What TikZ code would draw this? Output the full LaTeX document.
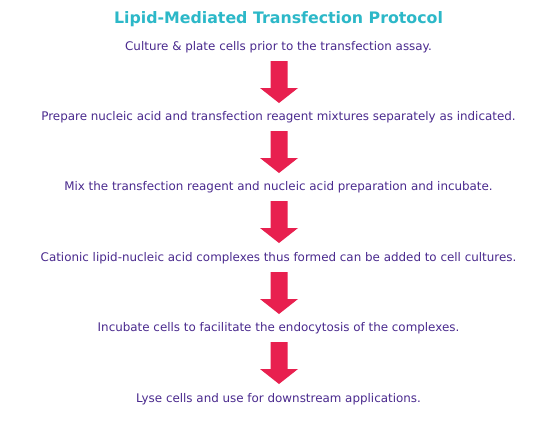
\documentclass[tikz,border=0pt]{standalone}
\usepackage{fontspec}
\setmainfont{DejaVu Sans}
\definecolor{titlecol}{HTML}{2CB8C8}
\definecolor{textcol}{HTML}{4A2A8E}
\definecolor{arrowcol}{HTML}{E8204F}
\begin{document}
\begin{tikzpicture}[x=1pt,y=-1pt,
  steptext/.style={text=textcol,font=\fontsize{11.9}{14}\selectfont,inner sep=0pt,anchor=center},
  downarrow/.style={fill=arrowcol,draw=none}]
\useasboundingbox[fill=white] (0,0) rectangle (558,421);
\node[text=titlecol,font=\bfseries\fontsize{15.8}{18}\selectfont,inner sep=0pt] (title) at (278.5,19) {Lipid-Mediated Transfection Protocol};
\node[steptext] (s1) at (278.5,47) {Culture \& plate cells prior to the transfection assay.};
\node[steptext] (s2) at (278.5,117) {Prepare nucleic acid and transfection reagent mixtures separately as indicated.};
\node[steptext] (s3) at (278.5,187) {Mix the transfection reagent and nucleic acid preparation and incubate.};
\node[steptext] (s4) at (278.5,258) {Cationic lipid-nucleic acid complexes thus formed can be added to cell cultures.};
\node[steptext] (s5) at (278.5,328) {Incubate cells to facilitate the endocytosis of the complexes.};
\node[steptext] (s6) at (278.5,399) {Lyse cells and use for downstream applications.};
\foreach \y in {61,131,201,272,342}{
  \fill[arrowcol] (270.5,\y) -- (287.5,\y) -- (287.5,\y+27) -- (298,\y+27) -- (279,\y+42) -- (260,\y+27) -- (270.5,\y+27) -- cycle;
}
\end{tikzpicture}
\end{document}
